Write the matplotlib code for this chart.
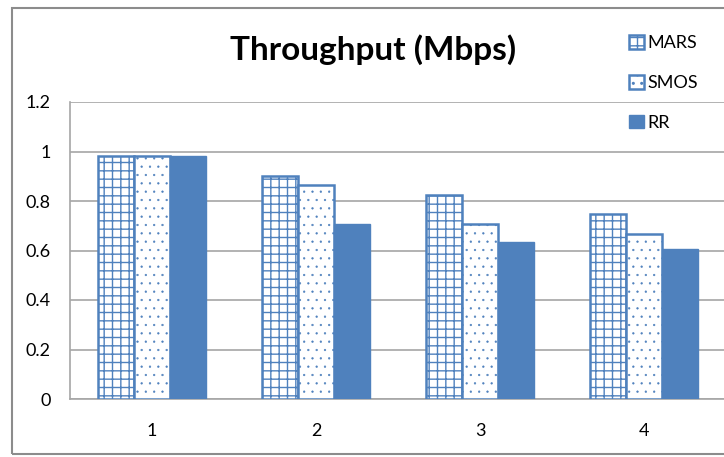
import numpy as np
import matplotlib.pyplot as plt
from matplotlib.patches import Rectangle

plt.rcParams['font.family'] = ['Lato', 'DejaVu Sans']

# Datos
categorias = ['1', '2', '3', '4']
mars = [0.98, 0.90, 0.825, 0.746]
smos = [0.98, 0.864, 0.706, 0.666]
rr = [0.98, 0.708, 0.633, 0.606]

azul = '#4F81BD'
gris = '#A6A6A6'

fig = plt.figure(figsize=(7.24, 4.57), dpi=100)
ax = fig.add_axes([70 / 724, 58 / 457, 656 / 724, 297 / 457])

x = np.arange(1, len(categorias) + 1)
w = 0.22

ax.bar(x - w, mars, w, color='white', edgecolor=azul, hatch='++', linewidth=1.8, label='MARS', zorder=3)
with plt.rc_context({'hatch.linewidth': 0.4}):
    ax.bar(x, smos, w, color='white', edgecolor=azul, hatch='..', linewidth=1.8, label='SMOS', zorder=3)
ax.bar(x + w, rr, w, color=azul, edgecolor=azul, linewidth=1.0, label='RR', zorder=3)

ax.set_xlim(0.5, 4.5)
ax.set_ylim(0, 1.2)
ax.set_yticks(np.arange(0, 1.21, 0.2))
ax.set_yticklabels(['0', '0.2', '0.4', '0.6', '0.8', '1', '1.2'])
ax.set_xticks(x)
ax.set_xticklabels(categorias)
ax.tick_params(length=0, labelsize=13, pad=14)
ax.tick_params(axis='x', pad=17)
ax.grid(axis='y', color=gris, linewidth=1.2, zorder=0)
for s in ['top', 'right']:
    ax.spines[s].set_visible(False)
for s in ['left', 'bottom']:
    ax.spines[s].set_color(gris)
    ax.spines[s].set_linewidth(1.2)

fig.text(373 / 724, 1 - 50 / 457, 'Throughput (Mbps)', fontsize=24, fontweight='bold',
         ha='center', va='center')

ax.legend(loc='upper left', bbox_to_anchor=(622 / 724, 1 - 28 / 457), bbox_transform=fig.transFigure,
          frameon=False, fontsize=13, handlelength=0.8, handleheight=0.8, handletextpad=0.2,
          labelspacing=1.3, borderaxespad=0)

# Marco exterior del gráfico
fig.patches.append(Rectangle((12 / 724, 3 / 457), 1.0, 446 / 457, transform=fig.transFigure,
                             fill=False, edgecolor='#8C8C8C', linewidth=1.5))

fig.savefig('out.png', dpi=100)
